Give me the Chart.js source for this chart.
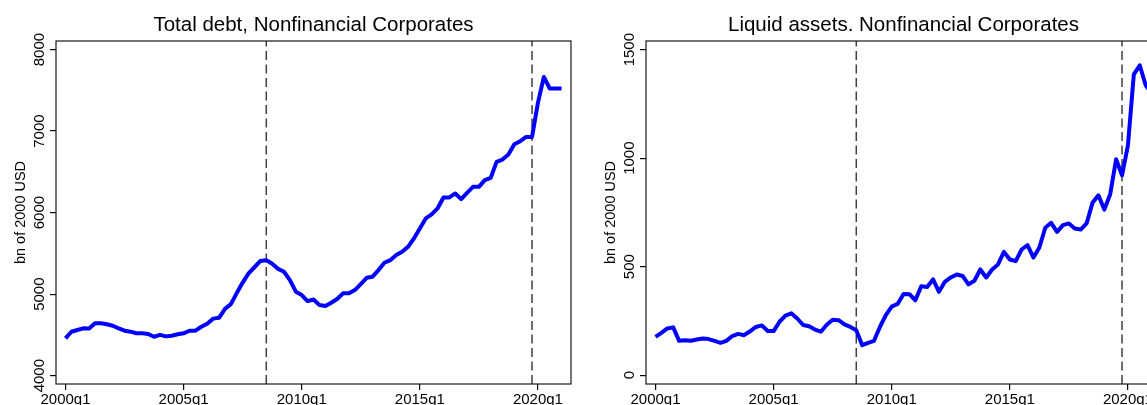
<!DOCTYPE html>
<html>
<head>
<meta charset="utf-8">
<script src="https://cdn.jsdelivr.net/npm/chart.js@4/dist/chart.umd.min.js"></script>
<style>
  html, body { margin: 0; padding: 0; background: #fff; }
  #wrap { position: relative; width: 1147px; height: 405px; overflow: hidden; background: #fff; }
  .panel { position: absolute; top: 0; width: 590px; height: 420px; }
</style>
</head>
<body>
<div id="wrap">
  <div class="panel" style="left:0"><canvas id="debtChart" width="590" height="420"></canvas></div>
  <div class="panel" style="left:590px"><canvas id="liquidChart" width="590" height="420"></canvas></div>
</div>
<script>
// quarters 2000q1 .. 2021q1
const quarters = [];
for (let y = 2000; y <= 2021; y++) {
  for (let q = 1; q <= 4; q++) quarters.push(`${y}q${q}`);
}
quarters.length = 85;

const tickLabels = ['2000q1', '2005q1', '2010q1', '2015q1', '2020q1'];
const markerQuarters = ['2008q3', '2019q4'];

// bn of 2000 USD
const debtValues = [
  4458, 4539, 4560, 4581, 4578, 4642, 4642, 4630, 4613, 4581,
  4552, 4540, 4520, 4520, 4512, 4478, 4500, 4482, 4490, 4508,
  4520, 4551, 4552, 4600, 4638, 4700, 4710, 4820, 4877, 5013,
  5142, 5254, 5330, 5407, 5417, 5373, 5310, 5275, 5173, 5030,
  4989, 4915, 4935, 4866, 4854, 4895, 4940, 5010, 5010, 5050,
  5124, 5201, 5214, 5295, 5385, 5417, 5479, 5520, 5581, 5683,
  5806, 5929, 5978, 6051, 6186, 6186, 6235, 6165, 6243, 6316,
  6316, 6398, 6426, 6623, 6651, 6713, 6839, 6876, 6929, 6929,
  7346, 7664, 7522, 7522, 7522
];
const debtTicks = [4000, 5000, 6000, 7000, 8000];

const liquidValues = [
  176, 195, 215, 220, 158, 161, 158, 164, 169, 166,
  158, 149, 158, 180, 190, 184, 202, 222, 229, 203,
  203, 246, 274, 285, 261, 231, 225, 210, 200, 232,
  255, 253, 234, 222, 207, 138, 149, 158, 222, 276,
  316, 328, 374, 373, 345, 410, 406, 441, 384, 430,
  450, 464, 457, 418, 435, 487, 450, 487, 510, 568,
  533, 525, 579, 599, 542, 588, 679, 702, 660, 691,
  699, 676, 671, 699, 794, 829, 763, 834, 995, 921,
  1059, 1386, 1428, 1336, 1300
];
const liquidTicks = [0, 500, 1000, 1500];

const FONT = '"Liberation Sans", Arial, sans-serif';

// frame, title, rotated y labels (Chart.js won't rotate vertical tick labels)
const panelDecor = {
  id: 'panelDecor',
  afterDraw(chart, args, opts) {
    const { ctx, chartArea: a } = chart;
    const y = chart.scales.y;
    ctx.save();
    ctx.strokeStyle = '#1a1a1a';
    ctx.lineWidth = 1.2;
    ctx.strokeRect(a.left, a.top, a.right - a.left, a.bottom - a.top);

    ctx.fillStyle = '#000';
    ctx.textAlign = 'center';
    ctx.textBaseline = 'alphabetic';
    ctx.font = '20.5px ' + FONT;
    ctx.fillText(opts.title, (a.left + a.right) / 2, 31);

    ctx.font = '15px ' + FONT;
    y.ticks.forEach(t => {
      ctx.save();
      ctx.translate(a.left - 12.5, y.getPixelForValue(t.value));
      ctx.rotate(-Math.PI / 2);
      ctx.fillText(String(t.value), 0, 0);
      ctx.restore();
    });

    ctx.font = '14.5px ' + FONT;
    ctx.translate(25, (a.top + a.bottom) / 2);
    ctx.rotate(-Math.PI / 2);
    ctx.fillText(opts.yTitle, 0, 0);
    ctx.restore();
  }
};

function makePanel(canvasId, title, values, yTicks, yMin, yMax) {
  const series = values.map((v, i) => ({ x: i, y: v }));
  const markers = markerQuarters.map(q => {
    const i = quarters.indexOf(q);
    return {
      data: [{ x: i, y: yMin }, { x: i, y: yMax }],
      borderColor: '#404040',
      borderWidth: 1.5,
      borderDash: [9, 4.5],
      pointRadius: 0
    };
  });
  const tickIdx = tickLabels.map(l => quarters.indexOf(l));

  return new Chart(document.getElementById(canvasId), {
    type: 'line',
    data: {
      datasets: [
        {
          data: series,
          borderColor: '#0000ff',
          borderWidth: 4,
          borderJoinStyle: 'round',
          pointRadius: 0,
          tension: 0
        },
        ...markers
      ]
    },
    options: {
      responsive: false,
      animation: false,
      layout: { padding: { left: 50, right: 19, top: 41, bottom: 14 } },
      plugins: {
        legend: { display: false },
        tooltip: { enabled: false },
        panelDecor: { title, yTitle: 'bn of 2000 USD' }
      },
      scales: {
        x: {
          type: 'linear',
          min: -1.61,
          max: 85.6,
          afterBuildTicks: s => { s.ticks = tickIdx.map(v => ({ value: v })); },
          afterFit: s => { s.height = 22; },
          ticks: {
            callback: v => quarters[v],
            autoSkip: false,
            maxRotation: 0,
            minRotation: 0,
            padding: 1,
            color: '#000',
            font: { family: FONT, size: 15 }
          },
          grid: { drawOnChartArea: false, drawTicks: true, tickLength: 6, color: '#000', lineWidth: 1.2 },
          border: { display: false }
        },
        y: {
          type: 'linear',
          min: yMin,
          max: yMax,
          afterBuildTicks: s => { s.ticks = yTicks.map(v => ({ value: v })); },
          afterFit: s => { s.width = 6; },
          ticks: { display: false },
          grid: { drawOnChartArea: false, drawTicks: true, tickLength: 6, color: '#000', lineWidth: 1.2 },
          border: { display: false }
        }
      }
    },
    plugins: [panelDecor]
  });
}

makePanel('debtChart', 'Total debt, Nonfinancial Corporates', debtValues, debtTicks, 3898, 8105);
makePanel('liquidChart', 'Liquid assets. Nonfinancial Corporates', liquidValues, liquidTicks, -41, 1540);
</script>
</body>
</html>
